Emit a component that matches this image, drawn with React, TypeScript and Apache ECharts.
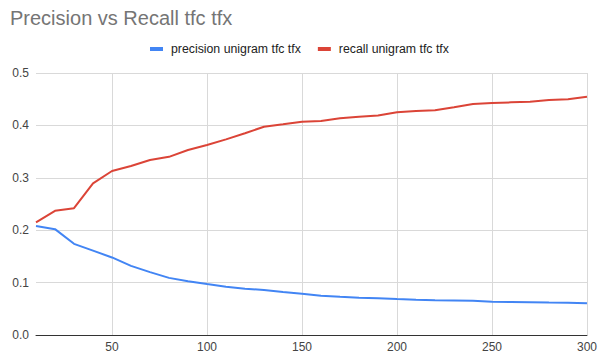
import React, { useEffect, useRef } from "react";
import * as echarts from "echarts";

const xValues = [10, 20, 30, 40, 50, 60, 70, 80, 90, 100, 110, 120, 130, 140, 150, 160, 170, 180, 190, 200, 210, 220, 230, 240, 250, 260, 270, 280, 290, 300];
const precision = [0.208, 0.202, 0.174, 0.161, 0.148, 0.132, 0.12, 0.109, 0.1025, 0.0973, 0.0922, 0.0884, 0.0859, 0.082, 0.0788, 0.075, 0.073, 0.0712, 0.07, 0.0687, 0.0675, 0.0665, 0.066, 0.0652, 0.0636, 0.063, 0.0625, 0.062, 0.0617, 0.0605];
const recall = [0.215, 0.237, 0.242, 0.2895, 0.313, 0.3225, 0.334, 0.34, 0.353, 0.3626, 0.3734, 0.385, 0.3975, 0.402, 0.407, 0.4084, 0.4135, 0.4167, 0.419, 0.425, 0.4275, 0.429, 0.4345, 0.441, 0.4427, 0.444, 0.445, 0.4485, 0.4498, 0.4548];
const xTicks = [50, 100, 150, 200, 250, 300];
const seriesNames = ["precision unigram tfc tfx", "recall unigram tfc tfx"];

export default function App() {
  const ref = useRef<HTMLDivElement>(null);
  useEffect(() => {
    if (!ref.current) return;
    const chart = echarts.init(ref.current, null, { renderer: "svg" });
    const font = "Arial, 'Liberation Sans', sans-serif";
    chart.setOption({
      animation: false,
      textStyle: { fontFamily: font },
      title: {
        text: "Precision vs Recall tfc tfx",
        left: 5,
        top: 3,
        textStyle: { fontSize: 20, fontWeight: "normal", color: "#757575", fontFamily: font },
      },
      legend: {
        top: 38,
        left: 145,
        icon: "rect",
        itemWidth: 13,
        itemHeight: 4,
        itemGap: 17,
        textStyle: { fontSize: 12.3, color: "#222", fontFamily: font, padding: [0, 0, 0, 3] },
        data: seriesNames,
      },
      grid: { left: 36, right: 10, top: 73, bottom: 19, containLabel: false },
      xAxis: {
        type: "value",
        min: 10,
        max: 300,
        axisLine: { show: true, onZero: false, lineStyle: { color: "#333", width: 1 } },
        axisTick: { show: false, customValues: xTicks },
        axisLabel: { customValues: xTicks, color: "#444", fontSize: 12, margin: 6, fontFamily: font },
        splitLine: { show: true, lineStyle: { color: "#d9d9d9", width: 1 } },
      },
      yAxis: {
        type: "value",
        min: 0,
        max: 0.5,
        interval: 0.1,
        axisLine: { show: false },
        axisTick: { show: false },
        axisLabel: { color: "#444", fontSize: 12, margin: 7, formatter: (v: number) => v.toFixed(1), fontFamily: font },
        splitLine: { show: true, lineStyle: { color: "#d9d9d9", width: 1 } },
      },
      series: [
        {
          name: seriesNames[0],
          type: "line",
          data: xValues.map((x, i) => [x, precision[i]]),
          showSymbol: false,
          lineStyle: { color: "#4285F4", width: 2 },
          itemStyle: { color: "#4285F4" },
        },
        {
          name: seriesNames[1],
          type: "line",
          data: xValues.map((x, i) => [x, recall[i]]),
          showSymbol: false,
          lineStyle: { color: "#DB4437", width: 2 },
          itemStyle: { color: "#DB4437" },
        },
      ],
    });
    return () => chart.dispose();
  }, []);
  return <div ref={ref} style={{ width: 600, height: 354, position: "absolute", left: 0, top: 0 }} />;
}
